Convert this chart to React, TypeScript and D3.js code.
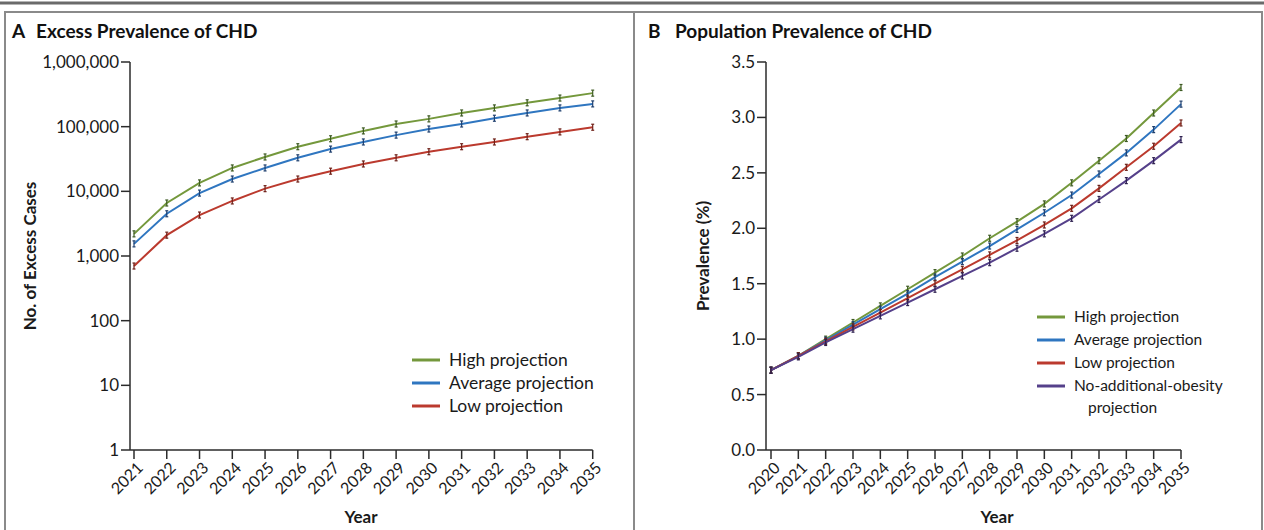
import React from "react";
import * as d3 from "d3";

const yearsA = [2021, 2022, 2023, 2024, 2025, 2026, 2027, 2028, 2029, 2030, 2031, 2032, 2033, 2034, 2035];
const highA = [2200, 6600, 13500, 23000, 34000, 49000, 65000, 86000, 110000, 132000, 163000, 195000, 234000, 277000, 330000];
const avgA = [1540, 4500, 9400, 15500, 23000, 33000, 45000, 58000, 74000, 92000, 110000, 135000, 163000, 195000, 225000];
const lowA = [700, 2100, 4300, 7100, 11000, 15500, 20500, 26500, 33000, 41000, 49000, 58000, 70000, 83000, 98000];
const ticksA = [1, 10, 100, 1000, 10000, 100000, 1000000];

const yearsB = [2020, 2021, 2022, 2023, 2024, 2025, 2026, 2027, 2028, 2029, 2030, 2031, 2032, 2033, 2034, 2035];
const highB = [0.72, 0.85, 1.0, 1.15, 1.3, 1.45, 1.6, 1.75, 1.91, 2.06, 2.22, 2.41, 2.61, 2.81, 3.04, 3.27];
const avgB = [0.72, 0.85, 0.99, 1.13, 1.27, 1.41, 1.56, 1.7, 1.84, 1.99, 2.14, 2.3, 2.49, 2.68, 2.89, 3.12];
const lowB = [0.72, 0.85, 0.98, 1.11, 1.24, 1.37, 1.5, 1.63, 1.76, 1.89, 2.03, 2.18, 2.36, 2.55, 2.74, 2.95];
const noObB = [0.72, 0.84, 0.97, 1.09, 1.21, 1.33, 1.45, 1.57, 1.69, 1.82, 1.95, 2.09, 2.26, 2.43, 2.61, 2.8];
const ticksB = [0, 0.5, 1.0, 1.5, 2.0, 2.5, 3.0, 3.5];

const GREEN = "#74983c";
const BLUE = "#2f76c0";
const RED = "#bb3a2e";
const PURPLE = "#55408a";

const FONT = "Lato, 'Open Sans', sans-serif";
const AX = "#2b2b2b";

type Series = { name: string; color: string; dark: string; values: number[] };

function Panel(props: {
  years: number[];
  series: Series[];
  x: d3.ScaleLinear<number, number>;
  y: any;
  ticks: number[];
  tickFmt: (v: number) => string;
  axisX: number;
  label: string;
  letter: string;
  title: string;
  letterX: number;
  titleX: number;
  yLabelX: number;
  xLabelX: number;
  legendX: number;
  legendY: number;
  legendSize: number;
  legend: string[][];
}) {
  const { years, series, x, y, ticks } = props;
  const top = y.range()[1];
  const bottom = y.range()[0];
  const xEnd = x(years[years.length - 1]);
  const line = (vals: number[]) =>
    d3
      .line<number>()
      .x((_, i) => x(years[i]))
      .y((v) => y(v))
      .curve(d3.curveLinear)(vals) as string;
  let ly = props.legendY;
  return (
    <g>
      <text x={props.letterX} y={38} fontFamily={FONT} fontWeight={700} fontSize={19} fill="#111">
        {props.letter}
      </text>
      <text x={props.titleX} y={38} fontFamily={FONT} fontWeight={700} fontSize={19} fill="#111">
        {props.title}
      </text>
      {/* y axis */}
      <line x1={props.axisX} x2={props.axisX} y1={top} y2={bottom} stroke={AX} strokeWidth={1.5} />
      {ticks.map((t) => (
        <g key={"yt" + t}>
          <line x1={props.axisX - 9} x2={props.axisX} y1={y(t)} y2={y(t)} stroke={AX} strokeWidth={1.5} />
          <text
            x={props.axisX - 11}
            y={y(t)}
            dy="0.35em"
            textAnchor="end"
            fontFamily={FONT}
            fontSize={17}
            fill="#1a1a1a"
          >
            {props.tickFmt(t)}
          </text>
        </g>
      ))}
      {/* x axis */}
      <line x1={props.axisX} x2={xEnd} y1={bottom} y2={bottom} stroke={AX} strokeWidth={1.5} />
      {years.map((yr) => (
        <g key={"xt" + yr}>
          <line x1={x(yr)} x2={x(yr)} y1={bottom} y2={bottom + 9} stroke={AX} strokeWidth={1.5} />
          <text
            transform={`translate(${x(yr) + 6},${bottom + 15}) rotate(-45)`}
            textAnchor="end"
            dy="0.35em"
            fontFamily={FONT}
            fontSize={16}
            fill="#1a1a1a"
          >
            {yr}
          </text>
        </g>
      ))}
      <text
        x={props.xLabelX}
        y={523}
        textAnchor="middle"
        fontFamily={FONT}
        fontWeight={700}
        fontSize={17}
        fill="#1a1a1a"
      >
        Year
      </text>
      <text
        transform={`translate(${props.yLabelX},256) rotate(-90)`}
        textAnchor="middle"
        fontFamily={FONT}
        fontWeight={700}
        fontSize={17}
        fill="#1a1a1a"
      >
        {props.label}
      </text>
      {/* series */}
      {series.map((s) => (
        <g key={s.name}>
          <path d={line(s.values)} fill="none" stroke={s.color} strokeWidth={2} />
          {s.values.map((v, i) => (
            <g key={i} stroke={s.dark} strokeWidth={1.2}>
              <line x1={x(years[i])} x2={x(years[i])} y1={y(v) - 3} y2={y(v) + 3} />
              <line x1={x(years[i]) - 1.5} x2={x(years[i]) + 1.5} y1={y(v) - 3} y2={y(v) - 3} />
              <line x1={x(years[i]) - 1.5} x2={x(years[i]) + 1.5} y1={y(v) + 3} y2={y(v) + 3} />
            </g>
          ))}
        </g>
      ))}
      {/* legend */}
      {series.map((s, k) => {
        const rowY = ly;
        const lines = props.legend[k];
        ly += 23 * lines.length - (lines.length > 1 ? 1 : 0);
        return (
          <g key={"lg" + s.name}>
            <line
              x1={props.legendX}
              x2={props.legendX + 28}
              y1={rowY}
              y2={rowY}
              stroke={s.color}
              strokeWidth={3}
            />
            {lines.map((t, j) => (
              <text
                key={j}
                x={props.legendX + 37 + (j > 0 ? 14 : 0)}
                y={rowY + j * 22}
                dy="0.35em"
                fontFamily={FONT}
                fontSize={props.legendSize}
                fill="#1a1a1a"
              >
                {t}
              </text>
            ))}
          </g>
        );
      })}
    </g>
  );
}

export default function App() {
  const xA = d3.scaleLinear().domain([2021, 2035]).range([134, 592.7]);
  const yA = d3.scaleLog().domain([1, 1000000]).range([450, 62]);
  const xB = d3.scaleLinear().domain([2020, 2035]).range([771, 1181]);
  const yB = d3.scaleLinear().domain([0, 3.5]).range([450, 62]);
  const fmtA = d3.format(",");
  const fmtB = d3.format(".1f");

  const seriesA: Series[] = [
    { name: "High projection", color: GREEN, dark: "#3d5a22", values: highA },
    { name: "Average projection", color: BLUE, dark: "#1e3f6e", values: avgA },
    { name: "Low projection", color: RED, dark: "#6e2018", values: lowA },
  ];
  const seriesB: Series[] = [
    { name: "High projection", color: GREEN, dark: "#3d5a22", values: highB },
    { name: "Average projection", color: BLUE, dark: "#1e3f6e", values: avgB },
    { name: "Low projection", color: RED, dark: "#6e2018", values: lowB },
    { name: "No-additional-obesity projection", color: PURPLE, dark: "#2e2050", values: noObB },
  ];

  return (
    <svg width={1264} height={530} style={{ position: "absolute", left: 0, top: 0, background: "#fff" }}>
      <rect x={0} y={0} width={1264} height={530} fill="#fff" />
      <line x1={0} x2={1264} y1={3} y2={3} stroke="#6a6a6a" strokeWidth={3} />
      <rect x={5} y={12} width={629} height={530} fill="none" stroke="#8a8a8a" strokeWidth={2} />
      <rect x={634} y={12} width={628} height={530} fill="none" stroke="#8a8a8a" strokeWidth={2} />
      <Panel
        years={yearsA}
        series={seriesA}
        x={xA}
        y={yA}
        ticks={ticksA}
        tickFmt={fmtA}
        axisX={130}
        label="No. of Excess Cases"
        letter="A"
        title="Excess Prevalence of CHD"
        letterX={12}
        titleX={36}
        yLabelX={36}
        xLabelX={361}
        legendX={412}
        legendY={360}
        legendSize={17.5}
        legend={[["High projection"], ["Average projection"], ["Low projection"]]}
      />
      <Panel
        years={yearsB}
        series={seriesB}
        x={xB}
        y={yB}
        ticks={ticksB}
        tickFmt={fmtB}
        axisX={766}
        label="Prevalence (%)"
        letter="B"
        title="Population Prevalence of  CHD"
        letterX={648}
        titleX={675}
        yLabelX={709}
        xLabelX={997}
        legendX={1037}
        legendY={317}
        legendSize={15.5}
        legend={[["High projection"], ["Average projection"], ["Low projection"], ["No-additional-obesity", "projection"]]}
      />
    </svg>
  );
}
